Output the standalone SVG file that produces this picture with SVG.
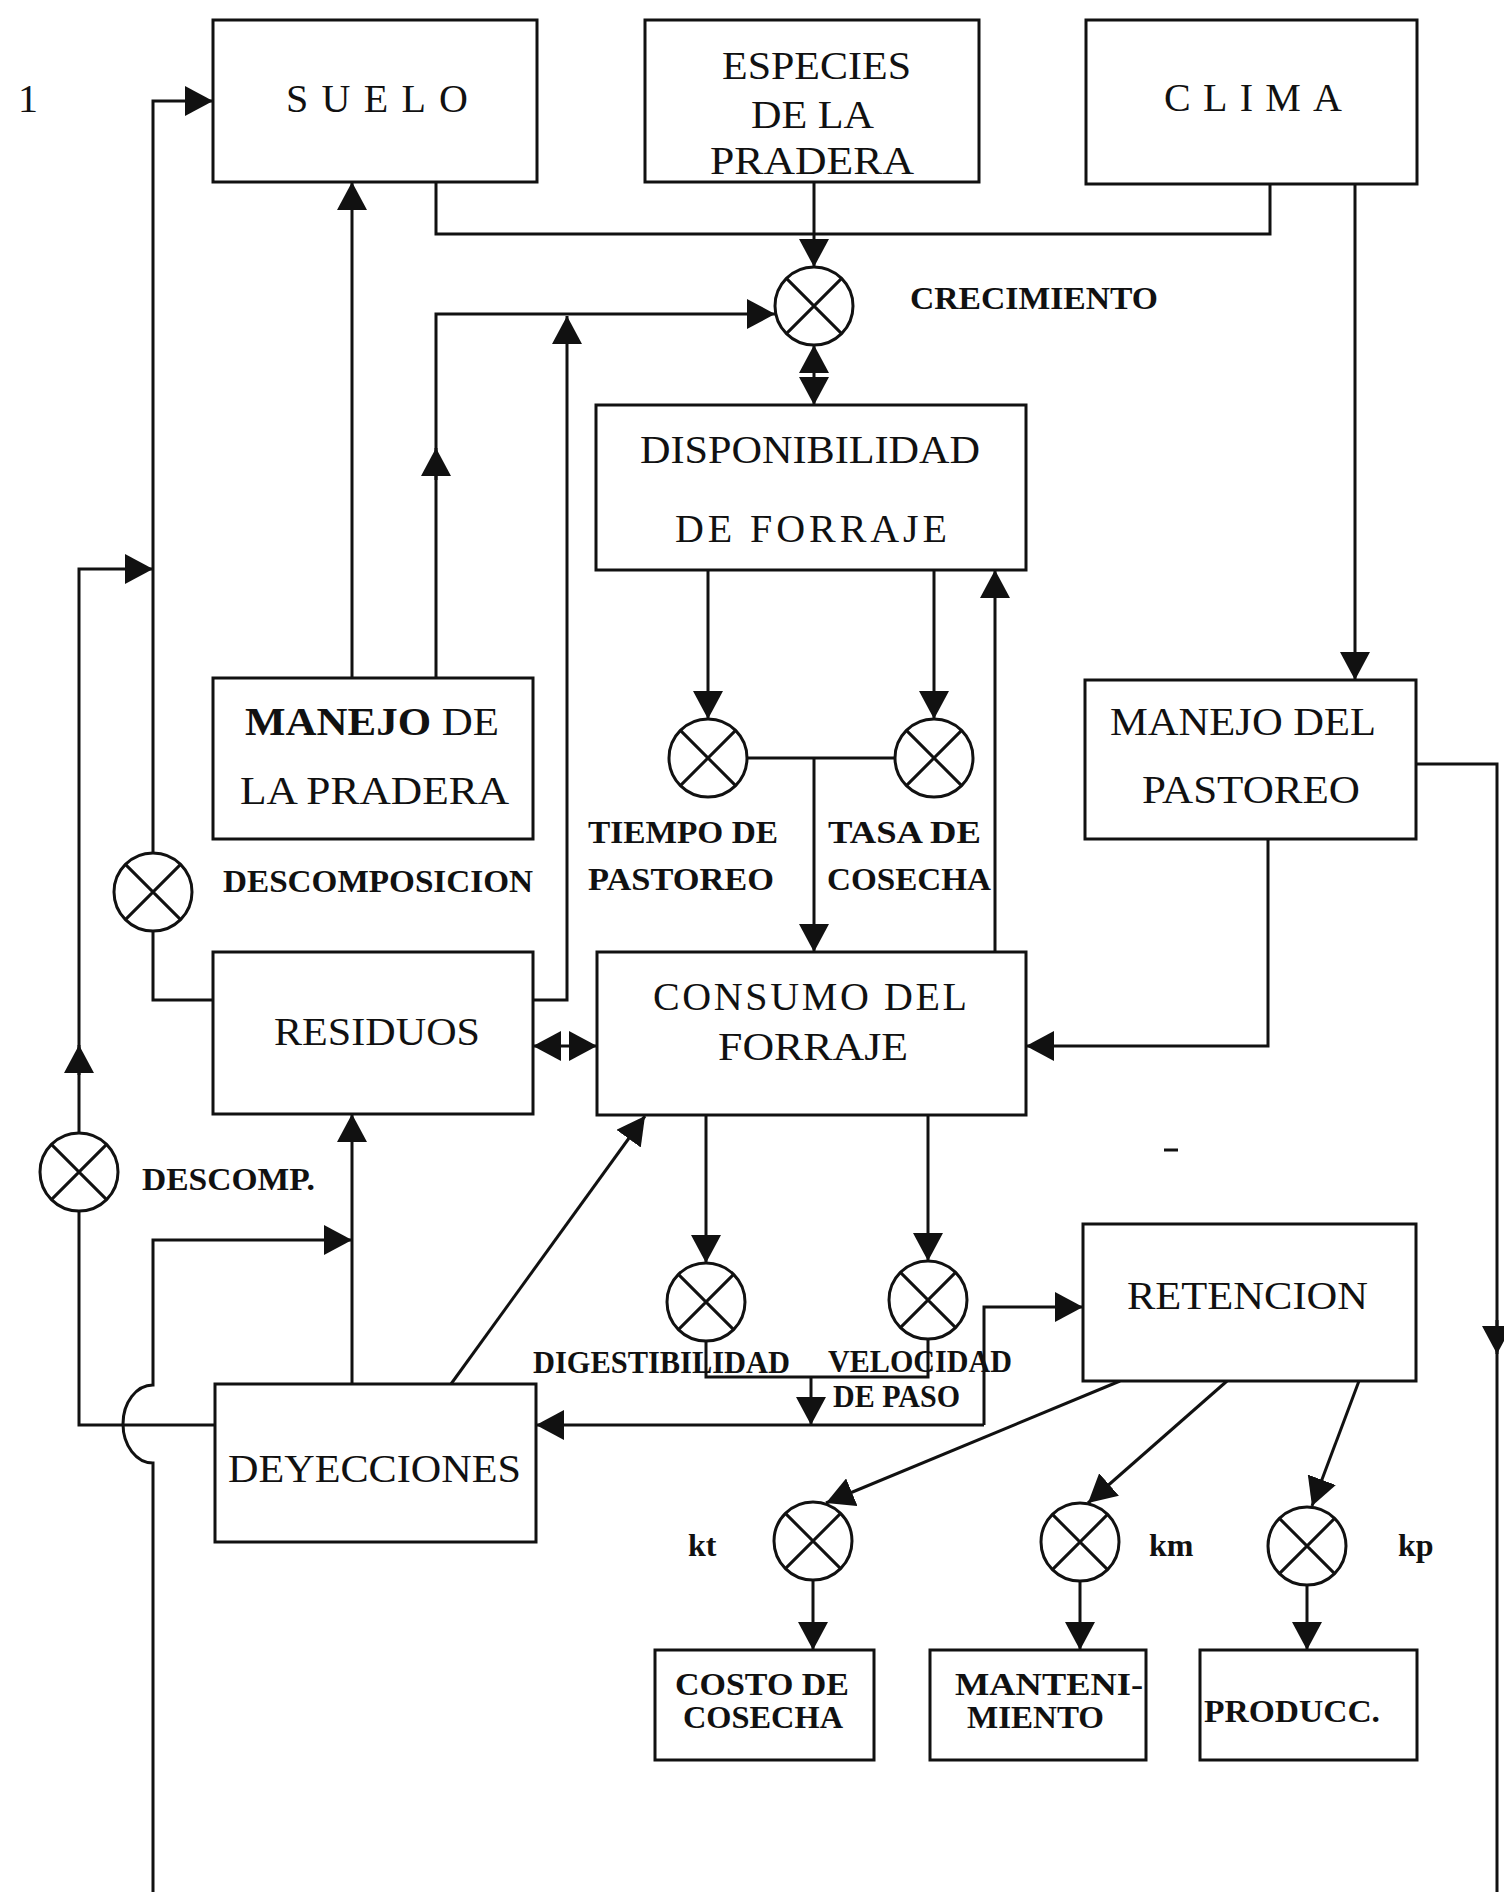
<svg xmlns="http://www.w3.org/2000/svg" width="1504" height="1892" viewBox="0 0 1504 1892">
<style>
.box{fill:#fff;stroke:#111;stroke-width:3}
.ln{fill:none;stroke:#111;stroke-width:3}
.ar{fill:none;stroke:#111;stroke-width:3;marker-end:url(#ah)}
.da{fill:none;stroke:#111;stroke-width:3;marker-end:url(#ah);marker-start:url(#ah)}
.cir{fill:#fff;stroke:#111;stroke-width:3}
.t{font-family:"Liberation Serif","Times New Roman",serif;font-size:40px;fill:#111}
.b{font-family:"Liberation Serif","Times New Roman",serif;font-size:32px;font-weight:bold;fill:#111}
</style>
<defs>
<marker id="ah" viewBox="0 0 28 30" refX="28" refY="15" markerWidth="28" markerHeight="30" markerUnits="userSpaceOnUse" orient="auto-start-reverse"><path d="M0,0 L28,15 L0,30 z" fill="#111"/></marker>
<g id="xc"><circle class="cir" cx="0" cy="0" r="39"/><path class="ln" d="M-27.6,-27.6 L27.6,27.6 M27.6,-27.6 L-27.6,27.6"/></g>
</defs>
<rect width="1504" height="1892" fill="#fff"/>
<text class="t" x="18" y="112" font-size="36">1</text>

<g id="connectors">
<path class="ln" d="M436,182 V234 H1270 V184"/>
<path class="ar" d="M814,182 V267"/>
<path class="da" d="M814,345 V405"/>
<path class="ar" d="M352,678 V182"/>
<path class="ar" d="M436,678 V314 H775"/>
<path class="ar" d="M436,480 V448"/>
<path class="ar" d="M533,1000 H567 V316"/>
<path class="ar" d="M153,853 V101 H213"/>
<path class="ln" d="M153,931 V1000 H213"/>
<path class="ar" d="M79,1133 V569 H153"/>
<path class="ar" d="M79,1075 V1045"/>
<path class="ln" d="M79,1211 V1425 H215"/>
<path class="ar" d="M352,1384 V1114"/>
<path class="ar" d="M153,1892 V1463 A30,39 0 0 1 153,1385 V1240 H352"/>
<path class="ln" d="M1416,764 H1497 V1892"/>
<path class="ar" d="M1497,1320 V1354"/>
<path class="ar" d="M1355,184 V680"/>
<path class="ar" d="M1268,839 V1046 H1026"/>
<path class="ar" d="M708,570 V719"/>
<path class="ar" d="M934,570 V719"/>
<path class="ln" d="M747,758 H895"/>
<path class="ar" d="M814,758 V952"/>
<path class="ar" d="M995,952 V570"/>
<path class="da" d="M533,1046 H597"/>
<path class="ar" d="M451,1384 L645,1116"/>
<path class="ar" d="M706,1115 V1263"/>
<path class="ar" d="M928,1115 V1261"/>
<path class="ln" d="M706,1341 V1377 H928 V1339"/>
<path class="ar" d="M811,1377 V1425"/>
<path class="ar" d="M984,1425 H536"/>
<path class="ar" d="M984,1425 V1307 H1083"/>
<path class="ar" d="M1120,1381 L826,1503"/>
<path class="ar" d="M1227,1381 L1088,1503"/>
<path class="ar" d="M1359,1381 L1312,1506"/>
<path class="ar" d="M813,1580 V1650"/>
<path class="ar" d="M1080,1581 V1650"/>
<path class="ar" d="M1307,1585 V1650"/>
<path class="ln" d="M1164,1150 H1178"/>
</g>

<g id="suelo"><rect class="box" x="213" y="20" width="324" height="162"/><text class="t" x="286" y="112" textLength="182" lengthAdjust="spacing">SUELO</text></g>
<g id="especies"><rect class="box" x="645" y="20" width="334" height="162"/>
<text class="t" x="722" y="79" textLength="189" lengthAdjust="spacingAndGlyphs">ESPECIES</text>
<text class="t" x="751" y="128" textLength="123" lengthAdjust="spacingAndGlyphs">DE LA</text>
<text class="t" x="710" y="174" textLength="204" lengthAdjust="spacingAndGlyphs">PRADERA</text></g>
<g id="clima"><rect class="box" x="1086" y="20" width="331" height="164"/><text class="t" x="1164" y="111" textLength="178" lengthAdjust="spacing">CLIMA</text></g>
<g id="disponibilidad"><rect class="box" x="596" y="405" width="430" height="165"/>
<text class="t" x="640" y="463" textLength="340" lengthAdjust="spacingAndGlyphs">DISPONIBILIDAD</text>
<text class="t" x="675" y="542" textLength="272" lengthAdjust="spacing">DE  FORRAJE</text></g>
<g id="manejo-pradera"><rect class="box" x="213" y="678" width="320" height="161"/>
<text class="t" x="245" y="735" textLength="254" lengthAdjust="spacingAndGlyphs"><tspan font-weight="bold">MANEJO</tspan>  DE</text>
<text class="t" x="240" y="804" textLength="269" lengthAdjust="spacingAndGlyphs">LA PRADERA</text></g>
<g id="manejo-pastoreo"><rect class="box" x="1085" y="680" width="331" height="159"/>
<text class="t" x="1110" y="735" textLength="266" lengthAdjust="spacingAndGlyphs">MANEJO DEL</text>
<text class="t" x="1142" y="803" textLength="218" lengthAdjust="spacingAndGlyphs">PASTOREO</text></g>
<g id="residuos"><rect class="box" x="213" y="952" width="320" height="162"/>
<text class="t" x="274" y="1045" textLength="206" lengthAdjust="spacingAndGlyphs">RESIDUOS</text></g>
<g id="consumo"><rect class="box" x="597" y="952" width="429" height="163"/>
<text class="t" x="653" y="1010" textLength="314" lengthAdjust="spacing">CONSUMO  DEL</text>
<text class="t" x="718" y="1060" textLength="190" lengthAdjust="spacingAndGlyphs">FORRAJE</text></g>
<g id="deyecciones"><rect class="box" x="215" y="1384" width="321" height="158"/>
<text class="t" x="228" y="1482" textLength="293" lengthAdjust="spacingAndGlyphs">DEYECCIONES</text></g>
<g id="retencion"><rect class="box" x="1083" y="1224" width="333" height="157"/>
<text class="t" x="1127" y="1309" textLength="241" lengthAdjust="spacingAndGlyphs">RETENCION</text></g>
<g id="costo"><rect class="box" x="655" y="1650" width="219" height="110"/>
<text class="b" x="675" y="1695" textLength="174" lengthAdjust="spacingAndGlyphs">COSTO DE</text>
<text class="b" x="683" y="1728" textLength="160" lengthAdjust="spacingAndGlyphs">COSECHA</text></g>
<g id="mantenimiento"><rect class="box" x="930" y="1650" width="216" height="110"/>
<text class="b" x="955" y="1695" textLength="188" lengthAdjust="spacingAndGlyphs">MANTENI-</text>
<text class="b" x="967" y="1728" textLength="137" lengthAdjust="spacingAndGlyphs">MIENTO</text></g>
<g id="produccion"><rect class="box" x="1200" y="1650" width="217" height="110"/>
<text class="b" x="1204" y="1722" textLength="176" lengthAdjust="spacingAndGlyphs">PRODUCC.</text></g>

<g id="crecimiento"><use href="#xc" x="814" y="306"/><text class="b" x="910" y="309" textLength="248" lengthAdjust="spacingAndGlyphs">CRECIMIENTO</text></g>
<g id="tiempo"><use href="#xc" x="708" y="758"/>
<text class="b" x="588" y="843" textLength="190" lengthAdjust="spacingAndGlyphs">TIEMPO DE</text>
<text class="b" x="588" y="890" textLength="186" lengthAdjust="spacingAndGlyphs">PASTOREO</text></g>
<g id="tasa"><use href="#xc" x="934" y="758"/>
<text class="b" x="828" y="843" textLength="153" lengthAdjust="spacingAndGlyphs">TASA DE</text>
<text class="b" x="827" y="890" textLength="164" lengthAdjust="spacingAndGlyphs">COSECHA</text></g>
<g id="descomposicion"><use href="#xc" x="153" y="892"/>
<text class="b" x="223" y="892" textLength="310" lengthAdjust="spacingAndGlyphs">DESCOMPOSICION</text></g>
<g id="descomp"><use href="#xc" x="79" y="1172"/>
<text class="b" x="142" y="1190" textLength="173" lengthAdjust="spacingAndGlyphs">DESCOMP.</text></g>
<g id="digestibilidad"><use href="#xc" x="706" y="1302"/>
<text class="b" x="533" y="1373" font-size="29" textLength="257" lengthAdjust="spacingAndGlyphs">DIGESTIBILIDAD</text></g>
<g id="velocidad"><use href="#xc" x="928" y="1300"/>
<text class="b" x="828" y="1372" font-size="28" textLength="184" lengthAdjust="spacingAndGlyphs">VELOCIDAD</text>
<text class="b" x="833" y="1407" font-size="28" textLength="127" lengthAdjust="spacingAndGlyphs">DE PASO</text></g>
<g id="kt"><use href="#xc" x="813" y="1541"/><text class="b" x="688" y="1556" font-size="28">kt</text></g>
<g id="km"><use href="#xc" x="1080" y="1542"/><text class="b" x="1149" y="1556" font-size="28">km</text></g>
<g id="kp"><use href="#xc" x="1307" y="1546"/><text class="b" x="1398" y="1556" font-size="28">kp</text></g>
</svg>
